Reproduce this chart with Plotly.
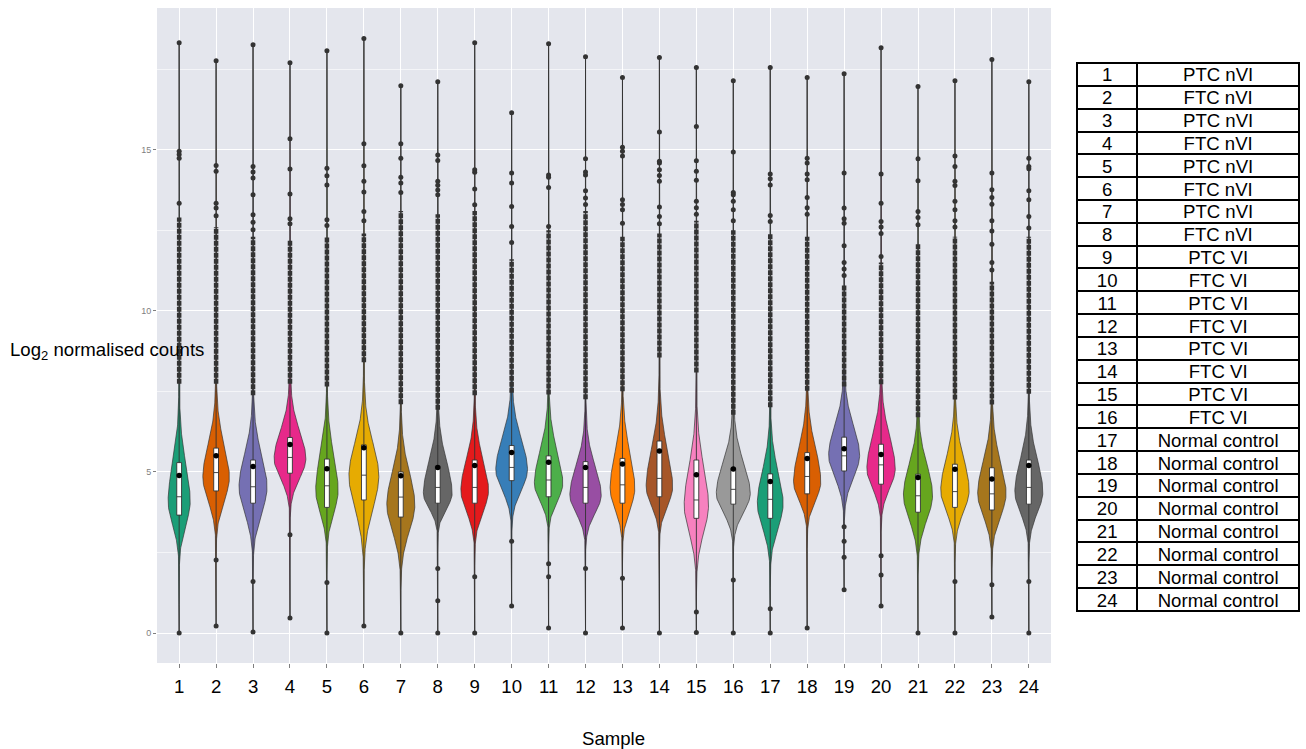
import numpy as np
import plotly.graph_objects as go

# ---------------- data ----------------
samples = list(range(1, 25))
groups = ["PTC nVI", "FTC nVI", "PTC nVI", "FTC nVI", "PTC nVI", "FTC nVI", "PTC nVI", "FTC nVI",
          "PTC VI", "FTC VI", "PTC VI", "FTC VI", "PTC VI", "FTC VI", "PTC VI", "FTC VI",
          "Normal control", "Normal control", "Normal control", "Normal control",
          "Normal control", "Normal control", "Normal control", "Normal control"]
colors = ["#1B9E77", "#D95F02", "#7570B3", "#E7298A", "#66A61E", "#E6AB02", "#A6761D", "#666666",
          "#E41A1C", "#377EB8", "#4DAF4A", "#984EA3", "#FF7F00", "#A65628", "#F781BF", "#999999",
          "#1B9E77", "#D95F02", "#7570B3", "#E7298A", "#66A61E", "#E6AB02", "#A6761D", "#666666"]

q1 = [3.66, 4.41, 4.03, 4.96, 3.90, 4.13, 3.60, 4.03, 4.03, 4.73, 4.23, 4.03,
      4.03, 4.23, 3.56, 4.00, 3.56, 4.32, 5.03, 4.62, 3.75, 3.90, 3.82, 4.00]
median = [4.23, 4.98, 4.54, 5.45, 4.57, 4.90, 4.22, 4.52, 4.52, 5.14, 4.75, 4.52,
          4.60, 4.80, 4.13, 4.46, 4.15, 4.86, 5.50, 5.22, 4.26, 4.39, 4.32, 4.52]
q3 = [5.29, 5.74, 5.37, 6.07, 5.40, 5.84, 5.00, 5.19, 5.37, 5.82, 5.50, 5.32,
      5.42, 5.96, 5.37, 5.11, 4.94, 5.60, 6.08, 5.86, 4.93, 5.24, 5.13, 5.37]
mean = [4.89, 5.50, 5.17, 5.85, 5.10, 5.75, 4.88, 5.14, 5.20, 5.60, 5.30, 5.14,
        5.25, 5.65, 4.91, 5.09, 4.70, 5.42, 5.72, 5.54, 4.83, 5.08, 4.78, 5.20]
ymin = [0.00, 0.22, 0.03, 0.47, 0.00, 0.22, 0.00, 0.00, 0.00, 0.84, 0.16, 0.00,
        0.16, 0.00, 0.00, 0.00, 0.00, 0.16, 1.34, 0.84, 0.00, 0.00, 0.50, 0.00]
ymax = [18.32, 17.76, 18.26, 17.70, 18.07, 18.45, 16.99, 17.11, 18.32, 16.15, 18.29, 17.89,
        17.24, 17.86, 17.55, 17.14, 17.55, 17.24, 17.36, 18.17, 16.96, 17.14, 17.80, 17.11]

# density shape descriptors: mode, relative peak density, low-side end of bulk, upper spread
mode = [4.10, 4.85, 4.55, 5.42, 4.44, 4.90, 4.00, 4.34, 4.44, 5.08, 4.65, 4.29,
        4.50, 4.55, 3.98, 4.34, 4.03, 4.70, 5.53, 5.11, 4.29, 4.44, 4.34, 4.39]
peak_density = [0.60, 0.72, 0.76, 0.86, 0.61, 0.81, 0.76, 0.78, 0.75, 0.86, 0.77, 0.85,
                0.67, 0.72, 0.66, 0.92, 0.70, 0.74, 0.84, 0.77, 0.79, 0.77, 0.77, 0.76]
bulk_low = [2.20, 2.90, 2.40, 3.80, 2.60, 2.20, 1.80, 3.10, 2.70, 3.40, 3.20, 2.80,
            2.80, 3.00, 1.75, 2.80, 2.06, 3.20, 3.70, 3.50, 2.27, 2.68, 2.47, 2.68]
spread_high = [1.15, 1.00, 1.00, 0.85, 1.10, 1.00, 1.00, 1.00, 0.95, 0.95, 1.00, 0.90,
               1.10, 1.15, 1.20, 0.95, 1.00, 1.05, 0.90, 1.00, 0.95, 1.00, 1.00, 1.00]

# top of the dense run of high outliers, and the isolated outliers
dense_top = [12.9, 12.6, 12.3, 12.2, 12.3, 12.4, 13.1, 13.0, 13.1, 11.6, 12.5, 13.1,
             12.3, 12.4, 12.8, 12.5, 12.4, 12.3, 10.8, 11.5, 12.1, 12.3, 10.9, 12.3]
high_outliers = [
    [18.32, 14.95, 14.85, 14.74, 13.34],
    [17.76, 14.51, 14.33, 13.34, 13.19, 12.95],
    [18.26, 14.48, 14.31, 14.12, 13.60, 12.98, 12.75, 12.52],
    [17.70, 15.34, 14.40, 13.63, 12.86, 12.70],
    [18.07, 14.43, 14.19, 13.91, 12.83, 12.65],
    [18.45, 15.19, 14.50, 14.02, 13.69, 13.08, 12.80],
    [16.99, 15.19, 14.74, 14.15, 13.97, 13.67],
    [17.11, 14.84, 14.67, 14.02, 13.90, 13.75, 13.60],
    [18.32, 14.38, 14.30, 13.78, 13.29],
    [16.15, 14.28, 13.97, 13.24, 12.62, 12.12],
    [18.29, 14.22, 14.15, 13.83, 12.62],
    [17.89, 14.72, 14.31, 14.22, 13.73, 13.50, 13.30],
    [17.24, 15.08, 14.95, 14.81, 13.45, 13.30, 13.14, 12.72],
    [17.86, 15.55, 14.64, 14.59, 14.38, 14.20, 14.02, 13.22, 12.93, 12.70],
    [17.55, 15.72, 14.66, 14.33, 14.05, 13.40, 13.20, 13.00],
    [17.14, 14.93, 13.67, 13.60, 13.40, 13.14, 12.80],
    [17.55, 14.25, 14.10, 13.91, 12.96, 12.77],
    [17.24, 14.74, 14.59, 14.25, 14.07, 13.52, 13.20, 13.00],
    [17.36, 14.28, 13.19, 12.86, 12.72, 12.02, 11.50, 11.30, 11.10],
    [18.17, 14.25, 13.34, 12.77, 12.60, 12.40, 11.69],
    [16.96, 14.72, 14.04, 13.08, 12.90, 12.67],
    [17.14, 14.81, 14.48, 14.02, 13.89, 13.40, 13.14, 12.80, 12.60],
    [17.80, 14.28, 13.76, 13.52, 13.31, 12.80, 12.48, 12.07, 11.50, 11.27],
    [17.11, 14.74, 14.48, 14.41, 13.73, 13.45, 12.93, 12.57],
]
low_outliers = [
    [0.0], [2.27, 0.22], [1.6, 0.03], [3.05, 0.47], [1.57, 0.0], [0.22], [0.0], [2.0, 1.0, 0.0],
    [1.75, 0.0], [2.85, 0.84], [2.15, 1.75, 0.16], [2.0, 0.0], [1.7, 0.16], [0.0], [0.65, 0.02],
    [1.65, 0.0], [0.75, 0.0], [0.16], [3.3, 2.85, 2.35, 1.34], [2.4, 1.8, 0.84], [0.0],
    [1.6, 0.0], [1.5, 0.5], [1.6, 0.0],
]

# ---------------- styles ----------------
FONT = "Arial, Liberation Sans, sans-serif"
PANEL = "#E4E6ED"
DARK = "#333333"
BIG = 18.6
YRANGE = [-0.93, 19.4]

fig = go.Figure()

# violins (density outlines built from the descriptors above) - base layer
for i, s in enumerate(samples):
    ys = np.linspace(ymin[i], ymax[i], 500)
    d = ys - mode[i]
    sd_lo = (mode[i] - bulk_low[i]) / 2.6
    su = spread_high[i]
    w = np.where(d < 0,
                 np.exp(-0.5 * (d / sd_lo) ** 2),
                 0.9 * np.exp(-0.5 * (d / su) ** 2) + 0.1 * np.exp(-d / 2.2))
    half = peak_density[i] / 2 * w
    xs = np.concatenate([s - half, (s + half)[::-1], [s - half[0]]])
    yy = np.concatenate([ys, ys[::-1], [ys[0]]])
    fig.add_trace(go.Scatter(x=xs, y=yy, mode="lines", fill="toself",
                             fillcolor=colors[i], line=dict(color="rgba(51,51,51,0.85)", width=0.8),
                             hoverinfo="skip", showlegend=False))

# boxes (precomputed statistics) - overlay layer so they sit above the violins
fig.add_trace(go.Box(x=samples, q1=q1, median=median, q3=q3,
                     lowerfence=ymin, upperfence=ymax, orientation="v",
                     width=0.13, whiskerwidth=0, yaxis="y2",
                     fillcolor="white", line=dict(color="rgba(51,51,51,0.9)", width=1),
                     boxpoints=False, showlegend=False, hoverinfo="skip"))

# dense stacks of high outliers (from upper fence to dense top)
for i, s in enumerate(samples):
    iqr = q3[i] - q1[i]
    fence = q3[i] + 1.5 * iqr
    fig.add_trace(go.Scatter(x=[s, s], y=[fence, dense_top[i]], mode="lines", yaxis="y2",
                             line=dict(color=DARK, width=4.5, dash="5px,1px"),
                             hoverinfo="skip", showlegend=False))

# isolated outliers
ox, oy = [], []
for i, s in enumerate(samples):
    for v in high_outliers[i] + low_outliers[i]:
        ox.append(s)
        oy.append(v)
fig.add_trace(go.Scatter(x=ox, y=oy, mode="markers", yaxis="y2",
                         marker=dict(color=DARK, size=5), hoverinfo="skip", showlegend=False))

# means
fig.add_trace(go.Scatter(x=samples, y=mean, mode="markers", yaxis="y2",
                         marker=dict(color="black", size=5.5), hoverinfo="skip", showlegend=False))

# table: borders layer, then text layer nudged to sit centred in the rows
ROW_H = 22.83
TOP = 0.916
border_style = dict(fill_color="white", line=dict(color="black", width=2),
                    font=dict(family=FONT, size=BIG, color="rgba(0,0,0,0)"),
                    align="center", height=ROW_H)
text_style = dict(fill_color="rgba(0,0,0,0)", line=dict(color="rgba(0,0,0,0)", width=0),
                  font=dict(family=FONT, size=BIG, color="black"), align="center", height=ROW_H)
fig.add_trace(go.Table(
    domain=dict(x=[1077 / 1306, 1299 / 1306], y=[0.0, TOP]),
    columnwidth=[60, 161],
    header=dict(values=["", ""], **border_style),
    cells=dict(values=[[""] * 23, [""] * 23], **border_style),
))
fig.add_trace(go.Table(
    domain=dict(x=[1077 / 1306, 1299 / 1306], y=[0.0, TOP + 3.5 / 655]),
    columnwidth=[60, 161],
    header=dict(values=[str(samples[0]), groups[0]], **text_style),
    cells=dict(values=[[str(s) for s in samples[1:]], groups[1:]], **text_style),
))

fig.update_layout(
    width=1306, height=749,
    margin=dict(l=0, r=0, t=8, b=86),
    paper_bgcolor="white", plot_bgcolor=PANEL,
    font=dict(family=FONT),
    showlegend=False,
    xaxis=dict(domain=[157 / 1306, 1051 / 1306], range=[0.4, 24.6],
               tickmode="array", tickvals=samples, ticktext=[str(s) for s in samples],
               tickfont=dict(size=BIG, color="black"), ticks="outside", ticklen=4,
               ticklabelstandoff=3,
               tickcolor="#7F7F7F", showgrid=True, gridcolor="white", gridwidth=1.2,
               zeroline=False, showline=False),
    yaxis=dict(range=YRANGE, tickvals=[0, 5, 10, 15],
               tickfont=dict(size=9, color="#7F7F7F"), ticks="outside", ticklen=3,
               tickcolor="#7F7F7F", showgrid=True, gridcolor="white", gridwidth=1.2,
               minor=dict(tickvals=[2.5, 7.5, 12.5, 17.5], showgrid=True,
                          gridcolor="rgba(255,255,255,0.6)", gridwidth=0.6, ticks=""),
               zeroline=False, showline=False),
    yaxis2=dict(range=YRANGE, overlaying="y", visible=False, showgrid=False,
                zeroline=False),
    annotations=[
        dict(text="Log<sub>2</sub> normalised counts", x=8 / 1306, y=(633 - 351) / 32.2,
             xref="paper", yref="y", xanchor="left", yanchor="middle", showarrow=False,
             font=dict(size=BIG, color="black", family=FONT)),
        dict(text="Sample", x=613 / 1306, y=0, xref="paper", yref="paper",
             xanchor="center", yanchor="middle", yshift=-75, showarrow=False,
             font=dict(size=BIG, color="black", family=FONT)),
    ],
)

fig.write_html("out.html", config={"displayModeBar": False},
               post_script="document.body.style.margin='0';")
